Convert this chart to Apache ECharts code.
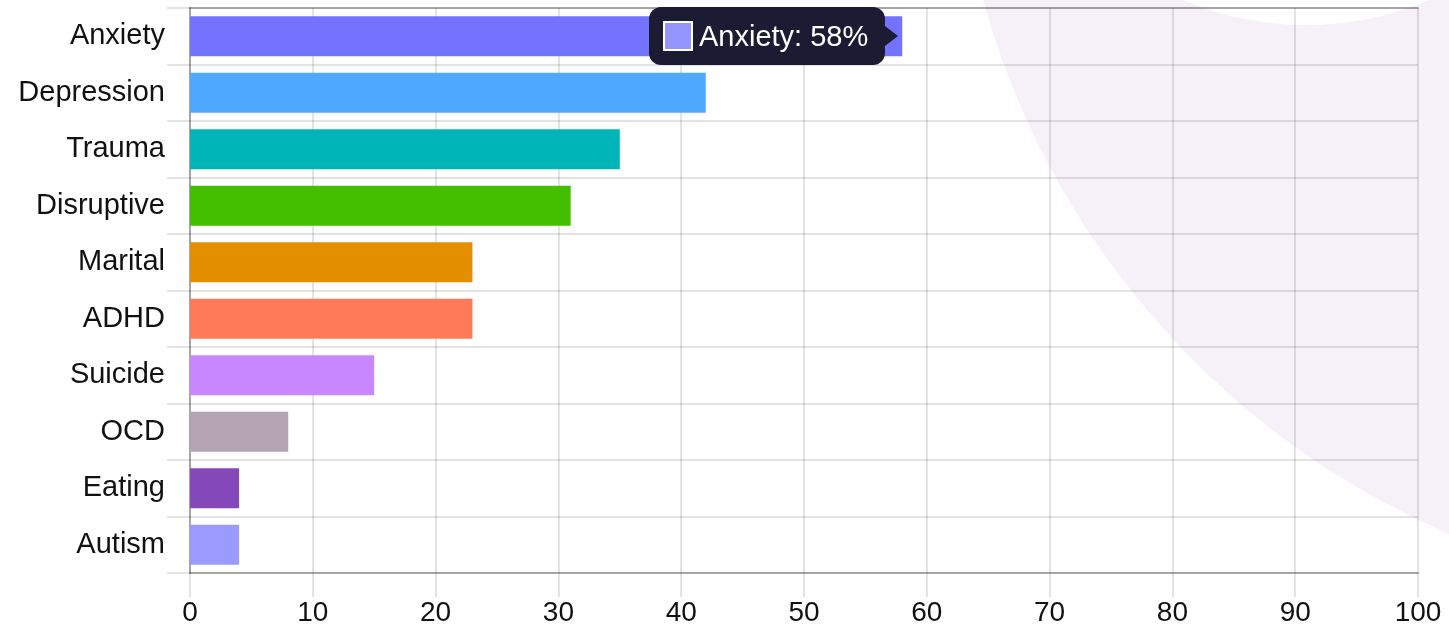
<!DOCTYPE html>
<html>
<head>
<meta charset="utf-8">
<title>Presenting concerns</title>
<script src="https://cdn.jsdelivr.net/npm/echarts@6/dist/echarts.min.js"></script>
<style>
  html, body { margin: 0; padding: 0; background: #fff; }
  #chart { width: 1449px; height: 632px; }
</style>
</head>
<body>
<div id="chart"></div>
<script>
// Share of clients (%) by presenting concern
const categories = ['Anxiety', 'Depression', 'Trauma', 'Disruptive', 'Marital', 'ADHD', 'Suicide', 'OCD', 'Eating', 'Autism'];
const percentages = [58, 42, 35, 31, 23, 23, 15, 8, 4, 4];
const barColors = ['#7373ff', '#4eaaff', '#00b5b8', '#43bf00', '#e38f00', '#ff7a59', '#c987ff', '#b3a3b3', '#8548b8', '#9b9bff'];
const xTicks = { min: 0, max: 100, interval: 10 };

const FONT = '"Liberation Sans", Arial, Helvetica, sans-serif';
const gridLine = 'rgba(0,0,0,0.11)';
const axisLine = 'rgba(0,0,0,0.27)';

const chart = echarts.init(document.getElementById('chart'), null, { renderer: 'canvas' });

chart.setOption({
  animation: false,
  textStyle: { fontFamily: FONT },
  grid: { left: 190, right: 31, top: 8, bottom: 59, containLabel: false },
  graphic: [
    // decorative backdrop blob in the upper right corner
    { type: 'circle', z: -10, silent: true, shape: { cx: 1774, cy: -220, r: 821 }, style: { fill: '#f6f1f8' } },
    { type: 'circle', z: -9, silent: true, shape: { cx: 1306, cy: -290, r: 315 }, style: { fill: '#ffffff' } }
  ],
  tooltip: {
    trigger: 'item',
    triggerOn: 'none',
    alwaysShowContent: true,
    transitionDuration: 0,
    backgroundColor: '#1b1b33',
    borderWidth: 0,
    padding: [14, 17, 14, 14],
    extraCssText: 'box-shadow:none;border-radius:12px;',
    textStyle: { color: '#fff', fontSize: 29, fontFamily: FONT },
    position: function (point, params, dom, rect, size) {
      const w = size.contentSize[0];
      const h = size.contentSize[1];
      return [rect.x + rect.width - w - 17, rect.y + rect.height / 2 - h / 2];
    },
    formatter: function (p) {
      // swatch uses a lighter tint of the bar colour
      const swatch = echarts.color.lift(barColors[p.dataIndex], -0.3);
      return '<div style="display:flex;align-items:center;line-height:30px;">' +
        '<span style="display:inline-block;box-sizing:border-box;width:30px;height:30px;background:' + swatch +
        ';border:2px solid #fff;margin-right:6px;"></span>' +
        '<span>' + p.name + ': ' + p.value + '%</span></div>' +
        '<span style="position:absolute;right:-13px;top:50%;margin-top:-10px;width:0;height:0;' +
        'border-top:10px solid transparent;border-bottom:10px solid transparent;border-left:13px solid #1b1b33;"></span>';
    }
  },
  xAxis: [
    {
      type: 'value',
      position: 'bottom',
      min: xTicks.min,
      max: xTicks.max,
      interval: xTicks.interval,
      axisLine: { show: true, lineStyle: { color: axisLine, width: 2 } },
      axisTick: { show: true, length: 24, lineStyle: { color: gridLine, width: 2 } },
      axisLabel: { margin: 26, fontSize: 28, color: '#111', fontFamily: FONT },
      splitLine: { show: true, lineStyle: { color: gridLine, width: 2 } }
    },
    {
      type: 'value',
      position: 'top',
      min: xTicks.min,
      max: xTicks.max,
      interval: xTicks.interval,
      axisLine: { show: true, lineStyle: { color: axisLine, width: 2 } },
      axisTick: { show: false },
      axisLabel: { show: false },
      splitLine: { show: false }
    }
  ],
  yAxis: {
    type: 'category',
    inverse: true,
    data: categories,
    axisLine: { show: true, lineStyle: { color: axisLine, width: 2 } },
    axisTick: { show: true, length: 23, interval: 0, lineStyle: { color: gridLine, width: 2 } },
    axisLabel: { margin: 25, fontSize: 29, color: '#111', fontFamily: FONT, interval: 0 },
    splitLine: { show: true, interval: 0, lineStyle: { color: gridLine, width: 2 } }
  },
  series: [{
    type: 'bar',
    xAxisIndex: 0,
    barCategoryGap: '29%',
    data: percentages.map((v, i) => ({ value: v, itemStyle: { color: barColors[i] } }))
  }]
});

chart.dispatchAction({ type: 'showTip', seriesIndex: 0, dataIndex: 0 });
</script>
</body>
</html>
